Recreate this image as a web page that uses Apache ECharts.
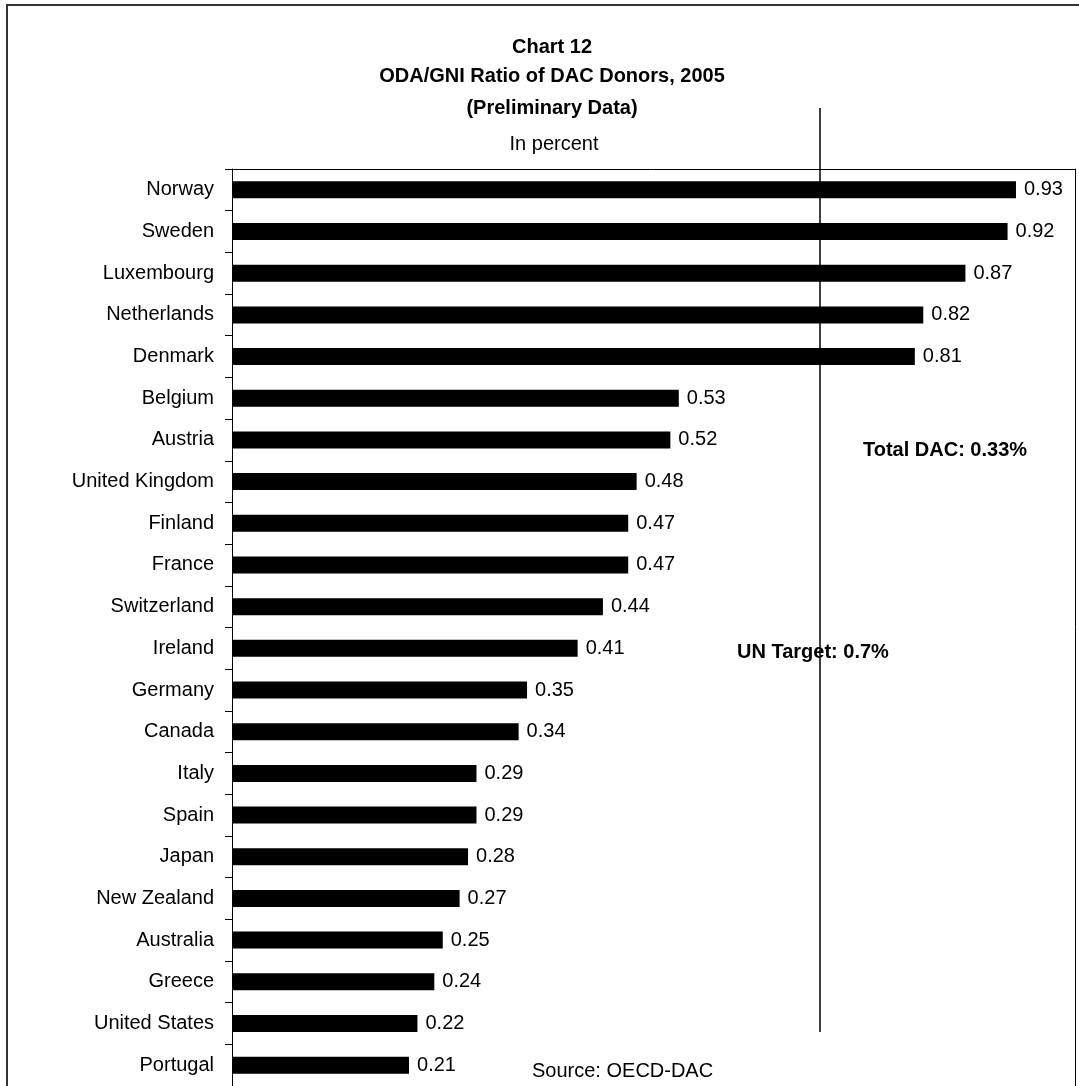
<!DOCTYPE html>
<html>
<head>
<meta charset="utf-8">
<script src="https://cdn.jsdelivr.net/npm/echarts@6/dist/echarts.min.js"></script>
<style>
html,body{margin:0;padding:0;background:#fff;}
#chart{width:1079px;height:1086px;}
</style>
</head>
<body>
<div id="chart"></div>
<script>
const categories = ["Norway","Sweden","Luxembourg","Netherlands","Denmark","Belgium","Austria","United Kingdom","Finland","France","Switzerland","Ireland","Germany","Canada","Italy","Spain","Japan","New Zealand","Australia","Greece","United States","Portugal"];
const odaGniRatio = [0.93,0.92,0.87,0.82,0.81,0.53,0.52,0.48,0.47,0.47,0.44,0.41,0.35,0.34,0.29,0.29,0.28,0.27,0.25,0.24,0.22,0.21];
const unTarget = 0.7;
const titleLines = ["Chart 12","ODA/GNI Ratio of DAC Donors, 2005","(Preliminary Data)"];
const subtitle = "In percent";
const totalDacNote = "Total DAC: 0.33%";
const unTargetNote = "UN Target: 0.7%";
const sourceNote = "Source: OECD-DAC";

const FONT = '"Liberation Sans", Arial, sans-serif';
const chart = echarts.init(document.getElementById('chart'), null, {renderer:'canvas'});

const option = {
  animation:false,
  backgroundColor:'#fff',
  grid:{left:232, top:169, right:4, bottom:-7, show:false, containLabel:false},
  xAxis:{type:'value', min:0, max:1, position:'top',
    axisLine:{show:true, lineStyle:{color:'#000', width:1}}, axisTick:{show:false}, axisLabel:{show:false}, splitLine:{show:false}},
  yAxis:[
    {type:'category', data:categories, inverse:true,
      axisLine:{show:true, lineStyle:{color:'#000', width:1}},
      axisTick:{show:true, length:7, alignWithLabel:false, lineStyle:{color:'#000'}},
      axisLabel:{color:'#000', fontSize:20, fontFamily:FONT, margin:18}},
    {type:'category', data:categories, inverse:true, position:'right',
      axisLine:{show:true, lineStyle:{color:'#000', width:1}},
      axisTick:{show:false}, axisLabel:{show:false}}
  ],
  series:[{type:'bar', data:odaGniRatio, barWidth:17, itemStyle:{color:'#000'},
    label:{show:true, position:'right', distance:8, color:'#000', fontSize:20, fontFamily:FONT,
      formatter:p=>p.value.toFixed(2)}}]
};
chart.setOption(option);

const lineX = Math.round(chart.convertToPixel({xAxisIndex:0}, unTarget)) - 2;
const titleY = [47, 76, 108];
const g = [
  {type:'rect', shape:{x:7, y:5, width:1200, height:1200}, style:{fill:'none', stroke:'#333', lineWidth:2}, silent:true},
  {type:'line', shape:{x1:lineX, y1:108, x2:lineX, y2:1032}, style:{stroke:'#000', lineWidth:1.5}, z:100}
];
titleLines.forEach((t,i)=>g.push({type:'text', x:552, y:titleY[i], style:{text:t, fill:'#000', font:'bold 20px '+FONT, textAlign:'center', textVerticalAlign:'middle'}}));
g.push({type:'text', x:554, y:144, style:{text:subtitle, fill:'#000', font:'20px '+FONT, textAlign:'center', textVerticalAlign:'middle'}});
g.push({type:'text', x:945, y:450, style:{text:totalDacNote, fill:'#000', font:'bold 20px '+FONT, textAlign:'center', textVerticalAlign:'middle'}});
g.push({type:'text', x:737, y:652, style:{text:unTargetNote, fill:'#000', font:'bold 20px '+FONT, textAlign:'left', textVerticalAlign:'middle'}});
g.push({type:'text', x:532, y:1071, style:{text:sourceNote, fill:'#000', font:'20px '+FONT, textAlign:'left', textVerticalAlign:'middle'}});
chart.setOption({graphic:g});
</script>
</body>
</html>
